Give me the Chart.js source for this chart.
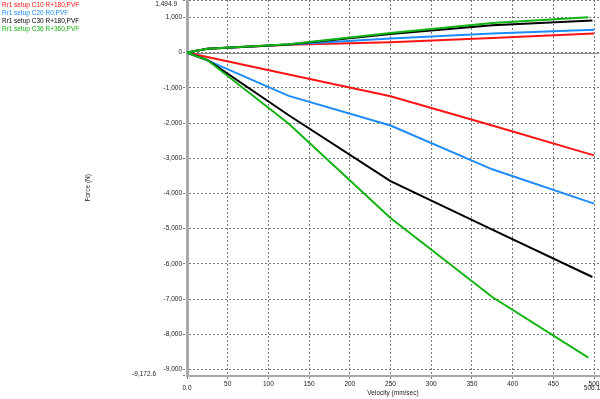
<!DOCTYPE html>
<html>
<head>
<meta charset="utf-8">
<script src="https://cdn.jsdelivr.net/npm/chart.js@4.4.0/dist/chart.umd.min.js"></script>
<style>
  html, body { margin: 0; padding: 0; background: #fff; }
  .chart-container { position: relative; width: 600px; height: 399px; }
</style>
</head>
<body>
<div class="chart-container">
  <canvas id="forceChart"></canvas>
</div>
<script>
// run / file names shown in the legend
const runLabel = 'Rr1';
const seriesLabels = ['setup C10 R+180,PVF', 'setup C20 R0,PVF', 'setup C30 R+180,PVF', 'setup C36 R+360,PVF'];
const seriesColors = ['#ff1414', '#1e8cff', '#000000', '#12b412'];

// velocity (mm/sec) for each test point
const velocityC10 = [0, 25, 125, 250, 375, 500];
const velocityC20 = [0, 25, 125, 250, 375, 500];
const velocityC30 = [0, 25, 125, 250, 375, 498];
const velocityC36 = [0, 25, 125, 250, 375, 493];

// rebound side force (N)
const reboundC10 = [0, 110, 225, 295, 415, 540];
const reboundC20 = [0, 110, 228, 400, 540, 650];
const reboundC30 = [0, 110, 232, 530, 775, 915];
const reboundC36 = [0, 112, 240, 560, 840, 1005];

// compression side force (N)
const compressionC10 = [0, -125, -620, -1241, -2070, -2918];
const compressionC20 = [0, -220, -1230, -2070, -3315, -4290];
const compressionC30 = [0, -210, -1780, -3650, -5030, -6375];
const compressionC36 = [0, -210, -2020, -4700, -6943, -8665];

// axis ticks
const xTickValues = [0, 50, 100, 150, 200, 250, 300, 350, 400, 450, 500];
const xMax = 506.1;
const yTickValues = [-9000, -8000, -7000, -6000, -5000, -4000, -3000, -2000, -1000, 0, 1000];
const yMin = -9172.6;
const yMax = 1494.9;

const velocities = [velocityC10, velocityC20, velocityC30, velocityC36];
const rebounds = [reboundC10, reboundC20, reboundC30, reboundC36];
const compressions = [compressionC10, compressionC20, compressionC30, compressionC36];

// one loop per file: rebound from top speed back to 0, then compression out
const buildLoop = (vel, reb, comp) => {
  const pts = [];
  for (let i = vel.length - 1; i >= 0; i--) pts.push({ x: vel[i], y: reb[i] });
  for (let i = 1; i < vel.length; i++) pts.push({ x: vel[i], y: comp[i] });
  return pts;
};

const fmt = (v, d) => v.toLocaleString('en-US', { minimumFractionDigits: d, maximumFractionDigits: d });
const FONT = '6.5px "Liberation Sans", Arial, sans-serif';

const extrasPlugin = {
  id: 'extras',
  beforeDatasetsDraw(chart) {
    const { ctx, chartArea, scales } = chart;
    const y0 = Math.round(scales.y.getPixelForValue(0)) + 0.5;
    ctx.save();
    ctx.strokeStyle = '#8a8a8a';
    ctx.lineWidth = 1;
    ctx.beginPath();
    ctx.moveTo(chartArea.left, y0);
    ctx.lineTo(chartArea.right, y0);
    ctx.stroke();
    ctx.restore();
  },
  afterDraw(chart) {
    const { ctx, scales } = chart;
    ctx.save();
    ctx.font = FONT;
    ctx.textBaseline = 'middle';
    // legend
    seriesLabels.forEach((lab, i) => {
      ctx.fillStyle = seriesColors[i];
      ctx.textAlign = 'left';
      ctx.fillText(runLabel, 2, 5 + i * 8);
      ctx.fillText(lab, 14, 5 + i * 8);
    });
    // range labels
    ctx.fillStyle = '#222';
    ctx.textAlign = 'right';
    ctx.fillText(fmt(yMax, 1), 177, 4);
    ctx.fillText(fmt(yMin, 1), 156, scales.y.getPixelForValue(yMin) - 1);
    ctx.textAlign = 'center';
    ctx.fillText('0.0', scales.x.getPixelForValue(0), 388);
    ctx.fillText(fmt(xMax, 1), scales.x.getPixelForValue(xMax) - 7, 388);
    ctx.restore();
  }
};

Chart.defaults.font.family = '"Liberation Sans", Arial, sans-serif';
Chart.defaults.font.size = 6.5;
Chart.defaults.color = '#222';

const ctx = document.getElementById('forceChart').getContext('2d');
new Chart(ctx, {
  type: 'line',
  data: {
    datasets: seriesLabels.map((lab, i) => ({
      label: runLabel + ' ' + lab,
      data: buildLoop(velocities[i], rebounds[i], compressions[i]),
      borderColor: seriesColors[i],
      borderWidth: 2,
      pointRadius: 0,
      tension: 0,
      fill: false,
      order: 3 - i,
    })),
  },
  options: {
    responsive: true,
    maintainAspectRatio: false,
    animation: false,
    layout: { padding: { left: 84, right: 1, top: 0, bottom: 0 } },
    plugins: {
      legend: { display: false },
      tooltip: { enabled: false },
    },
    scales: {
      x: {
        type: 'linear',
        min: 0,
        max: xMax,
        afterBuildTicks: (scale) => { scale.ticks = xTickValues.map(v => ({ value: v })); },
        afterFit: (scale) => { scale.height = 23.5; scale.paddingLeft = 0; scale.paddingRight = 0; },
        ticks: {
          autoSkip: false,
          maxRotation: 0,
          padding: 1,
          callback: (v) => (v === 0 ? '' : String(v)),
        },
        grid: { color: '#7a7a7a', lineWidth: 1, tickLength: 4, tickColor: '#7a7a7a', tickBorderDash: [2, 2] },
        border: { display: true, color: '#a8a8a8', width: 2, dash: [2, 2] },
        title: { display: true, text: 'Velocity (mm/sec)', color: '#222', padding: { top: 0, bottom: 2 } },
      },
      y: {
        min: yMin,
        max: yMax,
        afterBuildTicks: (scale) => {
          scale.ticks = [yMin, ...yTickValues, yMax].map(v => ({ value: v }));
        },
        afterFit: (scale) => { scale.width = 103; scale.paddingTop = 0; scale.paddingBottom = 0; },
        ticks: {
          autoSkip: false,
          padding: 1,
          callback: (v) => (yTickValues.includes(v) ? fmt(v, 0) : ''),
        },
        grid: { color: '#7a7a7a', lineWidth: 1, tickLength: 4, tickColor: '#7a7a7a', tickBorderDash: [2, 2] },
        border: { display: true, color: '#a8a8a8', width: 3, dash: [2, 2] },
        title: { display: true, text: 'Force (N)', color: '#222', padding: { top: 0, bottom: 0 } },
      },
    },
  },
  plugins: [extrasPlugin],
});
</script>
</body>
</html>
